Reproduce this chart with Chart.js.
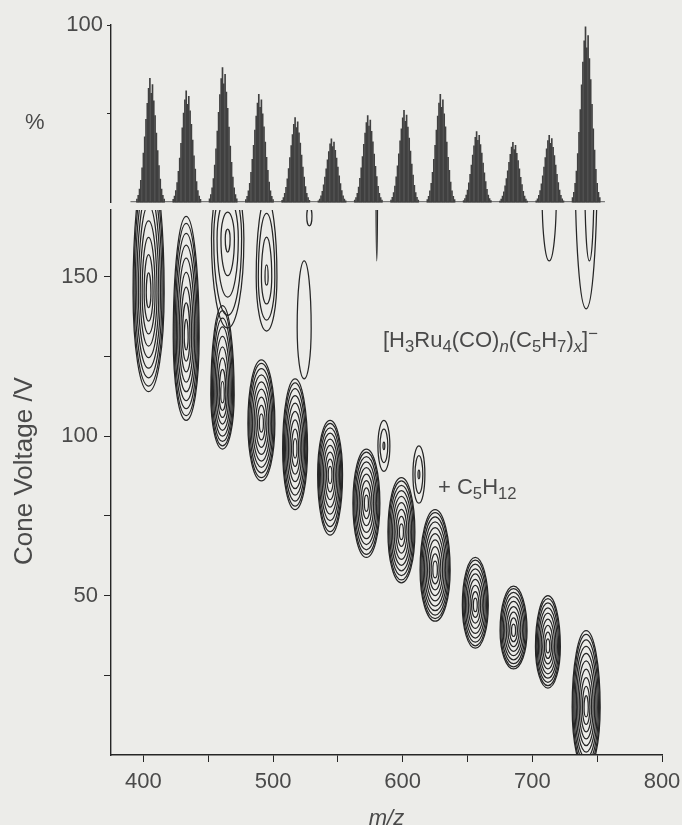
<!DOCTYPE html>
<html>
<head>
<meta charset="utf-8">
<script src="https://cdn.jsdelivr.net/npm/chart.js@4.4.1/dist/chart.umd.min.js"></script>
<style>
  html, body { margin: 0; padding: 0; background: #ecece9; overflow: hidden; }
  body { width: 682px; height: 825px; position: relative; font-family: "Liberation Sans", Arial, sans-serif; color: #4a4a4a; }
  #specBox { position: absolute; left: 0; top: 0; width: 682px; height: 220px; }
  #contBox { position: absolute; left: 0; top: 190px; width: 682px; height: 642px; }
  .note { position: absolute; font-size: 22px; line-height: 1; white-space: nowrap; }
  .note sub { font-size: 76%; vertical-align: -0.32em; line-height: 0; }
  .note sup { font-size: 76%; vertical-align: 0.5em; line-height: 0; }
  #yTitle { position: absolute; left: -127px; top: 456px; width: 300px; text-align: center; font-size: 26px; line-height: 30px; transform: rotate(-90deg); }
</style>
</head>
<body>
<div id="specBox"><canvas id="specChart"></canvas></div>
<div id="contBox"><canvas id="contChart"></canvas></div>
<div id="yTitle">Cone Voltage /V</div>
<div class="note" style="left:25px;top:111px;">%</div>
<div class="note" style="left:383px;top:329px;">[H<sub>3</sub>Ru<sub>4</sub>(CO)<sub><i>n</i></sub>(C<sub>5</sub>H<sub>7</sub>)<sub><i>x</i></sub>]<sup>&minus;</sup></div>
<div class="note" style="left:438px;top:476px;">+ C<sub>5</sub>H<sub>12</sub></div>
<script>
const INK = '#262626';
const TEXT = '#4a4a4a';
const FONT = '"Liberation Sans", Arial, sans-serif';

// top panel: mass spectrum, one isotope envelope per cluster
const peakMz  = [405, 433, 461, 489, 517, 545, 573, 601, 629, 657, 685, 713, 741];
const peakPct = [70, 63, 76, 61, 48, 36, 49, 52, 61, 40, 34, 38, 99];
const isoPattern = [0.03, 0.06, 0.11, 0.18, 0.28, 0.4, 0.53, 0.67, 0.8, 0.92, 1.0, 0.88, 0.95, 0.82, 0.7, 0.56, 0.42, 0.3, 0.19, 0.11, 0.06, 0.03];
const baselineMz = [390, 756];

// bottom panel: contour islands (centre m/z, centre cone voltage, half width in m/z,
// extent below / above centre in V, number of contour rings)
const blobMz    = [404, 433, 461, 465, 491, 495, 517, 524, 544, 572, 585.5, 599, 612.5, 625, 656, 685.5, 712, 741.5, 713, 741.5, 744, 580, 528];
const blobV     = [145, 131, 113, 162, 104, 150, 96, 134, 88, 79, 97, 70, 88, 58, 47, 39, 34, 15, 176, 186, 180, 182, 169];
const blobHalfW = [12, 10, 9, 12.5, 10.4, 8, 9.6, 5.4, 9.6, 10.4, 4.6, 10.4, 4.6, 11.6, 10, 10.4, 9.6, 10.8, 5.5, 8.5, 3.5, 0.6, 2];
const blobDown  = [31, 26, 17, 28, 18, 17, 19, 16, 19, 17, 8, 16, 9, 16, 13.5, 12, 13, 20, 21, 46, 25, 27, 3];
const blobUp    = [42, 38, 28, 20, 20, 25, 22, 21, 17, 17, 8, 17, 9, 19, 15, 14, 16, 24, 10, 10, 10, 5, 3];
const blobRings = [9, 9, 9, 5, 9, 4, 9, 1, 9, 9, 3, 9, 3, 10, 9, 9, 9, 10, 1, 1, 1, 1, 1];

const mzLabels  = [400, 500, 600, 700, 800];
const cvLabels  = [50, 100, 150];
const pctLabels = [100];

const specBars = [];
peakMz.forEach((mz, p) => {
  isoPattern.forEach((r, i) => specBars.push({ x: mz + i - 10, y: peakPct[p] * r }));
});

const blobs = blobMz.map((mz, i) => ({
  x: mz, y: blobV[i], hw: blobHalfW[i], down: blobDown[i], up: blobUp[i], rings: blobRings[i]
}));

const contourPlugin = {
  id: 'contours',
  afterDatasetsDraw(chart) {
    const { ctx, chartArea: a, scales: { x, y } } = chart;
    ctx.save();
    ctx.beginPath();
    ctx.rect(a.left, a.top, a.right - a.left, a.bottom - a.top);
    ctx.clip();
    ctx.strokeStyle = INK;
    ctx.lineWidth = 1.25;
    chart.data.datasets[0].data.forEach(b => {
      const cx = x.getPixelForValue(b.x), cy = y.getPixelForValue(b.y);
      for (let k = 0; k < b.rings; k++) {
        const s = b.rings === 1 ? 1 : 1 - 0.85 * Math.pow(k / (b.rings - 1), 1.3);
        const rx = x.getPixelForValue(b.x + b.hw * s) - cx;
        const ru = cy - y.getPixelForValue(b.y + b.up * s);
        const rd = y.getPixelForValue(b.y - b.down * s) - cy;
        ctx.beginPath();
        ctx.ellipse(cx, cy, rx, ru, 0, Math.PI, 2 * Math.PI);
        ctx.ellipse(cx, cy, rx, rd, 0, 0, Math.PI);
        ctx.closePath();
        ctx.stroke();
      }
    });
    ctx.restore();
  }
};

const tickFont = { family: FONT, size: 22 };

new Chart(document.getElementById('specChart'), {
  type: 'bar',
  data: {
    datasets: [
      { data: specBars, backgroundColor: '#404040', barThickness: 1, borderWidth: 0 },
      { type: 'line', data: baselineMz.map(m => ({ x: m, y: 0.6 })), borderColor: '#555', borderWidth: 1.2, pointRadius: 0 }
    ]
  },
  options: {
    responsive: true, maintainAspectRatio: false, animation: false,
    layout: { padding: { top: 25, bottom: 16, left: 0, right: 20 } },
    plugins: { legend: { display: false }, tooltip: { enabled: false } },
    scales: {
      x: { type: 'linear', min: 375, max: 800, offset: false, grid: { offset: false }, display: false },
      y: {
        min: 0, max: 100,
        afterFit: s => { s.width = 111; },
        border: { display: true, color: INK, width: 1.4 },
        grid: { drawOnChartArea: false, tickLength: 4, tickColor: c => c.tick && c.tick.value === 0 ? 'rgba(0,0,0,0)' : INK },
        ticks: {
          stepSize: 50, color: TEXT, font: tickFont, padding: 4,
          callback: v => pctLabels.includes(v) ? String(v) : ''
        }
      }
    }
  }
});

new Chart(document.getElementById('contChart'), {
  type: 'scatter',
  data: { datasets: [{ data: blobs, pointRadius: 0, showLine: false }] },
  options: {
    responsive: true, maintainAspectRatio: false, animation: false,
    layout: { padding: { top: 20, bottom: 0, left: 0, right: 20 } },
    plugins: { legend: { display: false }, tooltip: { enabled: false } },
    scales: {
      x: {
        type: 'linear', min: 375, max: 800,
        afterFit: s => { s.height = 77; s.paddingLeft = 0; s.paddingRight = 0; },
        border: { display: true, color: INK, width: 1.4 },
        grid: { drawOnChartArea: false, tickLength: 7, tickColor: INK },
        ticks: {
          stepSize: 50, includeBounds: false, color: TEXT, font: tickFont, padding: 7, maxRotation: 0,
          callback: v => mzLabels.includes(v) ? String(v) : ''
        },
        title: { display: true, text: 'm/z', color: TEXT, font: { family: FONT, size: 22, style: 'italic' }, padding: { top: 0, bottom: 0 } }
      },
      y: {
        min: 0, max: 171,
        afterFit: s => { s.width = 111; },
        border: { display: true, color: INK, width: 1.4 },
        grid: { drawOnChartArea: false, tickLength: 7, tickColor: c => c.tick && c.tick.value === 0 ? 'rgba(0,0,0,0)' : INK },
        ticks: {
          stepSize: 25, includeBounds: false, color: TEXT, font: tickFont, padding: 6,
          callback: v => cvLabels.includes(v) ? String(v) : ''
        }
      }
    }
  },
  plugins: [contourPlugin]
});
</script>
</body>
</html>
